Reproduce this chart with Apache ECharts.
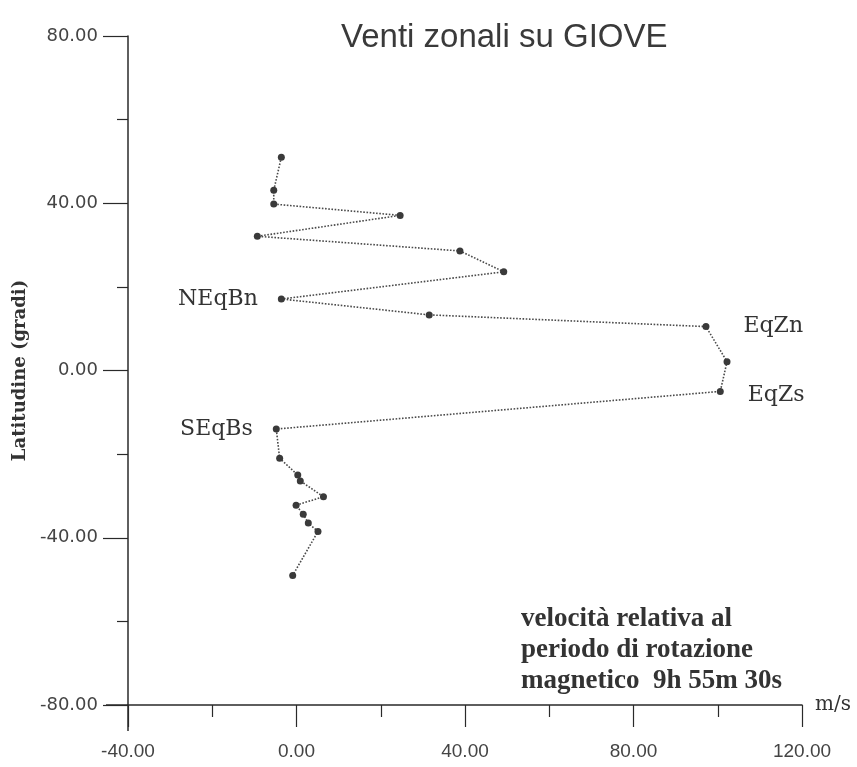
<!DOCTYPE html>
<html>
<head>
<meta charset="utf-8">
<script src="https://cdn.jsdelivr.net/npm/echarts@6/dist/echarts.min.js"></script>
<style>
html,body{margin:0;padding:0;background:#fff}
#chart{width:857px;height:767px}
</style>
</head>
<body>
<div id="chart"></div>
<script>
// velocita' zonale (m/s) e latitudine (gradi)
var velocita = [-3.6, -5.4, -5.4, 24.6, -9.3, 38.8, 49.2, -3.6, 31.5, 97.2, 102.2, 100.6,
	-4.8, -4.0, 0.3, 0.9, 6.4, -0.1, 1.6, 2.8, 5.1, -0.9];
var latitudine = [51.0, 43.1, 39.8, 37.1, 32.1, 28.6, 23.6, 17.1, 13.3, 10.5, 2.1, -5.0,
	-14.0, -21.0, -25.0, -26.4, -30.2, -32.2, -34.4, -36.5, -38.5, -49.0];
// nomi delle bande (vuoto = nessuna etichetta)
var bande = ['', '', '', '', '', '', '', 'NEqBn', '', 'EqZn', '', 'EqZs',
	'SEqBs', '', '', '', '', '', '', '', '', ''];
var lato = {NEqBn: 'left', SEqBs: 'left', EqZn: 'right', EqZs: 'right'};
var nota = ['velocità relativa al', 'periodo di rotazione', 'magnetico  9h 55m 30s'];

var chart = echarts.init(document.getElementById('chart'));

var punti = velocita.map(function (v, i) {
	var p = {value: [v, latitudine[i]]};
	if (bande[i]) {
		p.label = {
			show: true,
			formatter: bande[i],
			position: lato[bande[i]],
			distance: bande[i] == 'EqZn' ? 34 : (bande[i] == 'EqZs' ? 24 : 20),
			offset: bande[i] == 'EqZs' ? [0, 4] : [0, 0]
		};
	}
	return p;
});

var option = {
	backgroundColor: '#fff',
	animation: false,
	title: {
		text: 'Venti zonali su GIOVE',
		left: 336,
		top: 16,
		textStyle: {fontFamily: 'Liberation Sans', fontSize: 33, fontWeight: 'normal', color: '#3a3a3a'}
	},
	grid: {left: 128, right: 55, top: 36, bottom: 62, containLabel: false, outerBoundsMode: 'none'},
	xAxis: {
		type: 'value',
		min: -40, max: 120, interval: 40,
		name: 'm/s',
		nameLocation: 'end',
		nameGap: 13,
		nameTextStyle: {fontFamily: 'DejaVu Serif', fontSize: 20, color: '#333', padding: [8, 0, 0, 0]},
		axisLine: {onZero: false, lineStyle: {color: '#2a2a2a', width: 1.5}},
		axisTick: {length: 22, lineStyle: {color: '#2a2a2a', width: 1.2}},
		minorTick: {show: true, splitNumber: 2, length: 12, lineStyle: {color: '#2a2a2a', width: 1.2}},
		splitLine: {show: false},
		axisLabel: {
			margin: 37,
			fontFamily: 'Liberation Sans',
			fontSize: 19,
			color: '#444',
			formatter: function (v) { return v.toFixed(2); }
		}
	},
	yAxis: {
		type: 'value',
		min: -80, max: 80, interval: 40,
		name: 'Latitudine (gradi)',
		nameLocation: 'middle',
		nameGap: 85,
		nameTextStyle: {fontFamily: 'DejaVu Serif', fontSize: 18, fontWeight: 'bold', color: '#333'},
		axisLine: {onZero: false, lineStyle: {color: '#2a2a2a', width: 1.5}},
		axisTick: {length: 25, lineStyle: {color: '#2a2a2a', width: 1.2}},
		minorTick: {show: true, splitNumber: 2, length: 11, lineStyle: {color: '#2a2a2a', width: 1.2}},
		splitLine: {show: false},
		axisLabel: {
			margin: 30,
			fontFamily: 'DejaVu Sans',
			fontSize: 18,
			color: '#444',
			formatter: function (v) { return v.toFixed(2); }
		}
	},
	graphic: [{
		type: 'text',
		left: 521,
		top: 604,
		style: {
			text: nota.join('\n'),
			font: 'bold 27px "Liberation Serif"',
			lineHeight: 31,
			fill: '#333'
		}
	}],
	series: [{
		type: 'line',
		data: punti,
		symbol: 'circle',
		symbolSize: 7,
		itemStyle: {color: '#3a3a3a'},
		lineStyle: {color: '#4a4a4a', width: 1.6, type: 'dotted'},
		label: {
			show: false,
			fontFamily: 'DejaVu Serif',
			fontSize: 22,
			color: '#333'
		}
	}]
};
chart.setOption(option);

// gli assi si incrociano e sporgono oltre l'origine
var o = chart.convertToPixel({gridIndex: 0}, [-40, -80]);
chart.setOption({graphic: option.graphic.concat([
	{type: 'line', shape: {x1: o[0], y1: o[1], x2: o[0], y2: o[1] + 26}, style: {stroke: '#2a2a2a', lineWidth: 1.5}},
	{type: 'line', shape: {x1: o[0] - 22, y1: o[1], x2: o[0], y2: o[1]}, style: {stroke: '#2a2a2a', lineWidth: 1.5}}
])});

window.onresize = function () {
	chart.resize();
};
</script>
</body>
</html>
